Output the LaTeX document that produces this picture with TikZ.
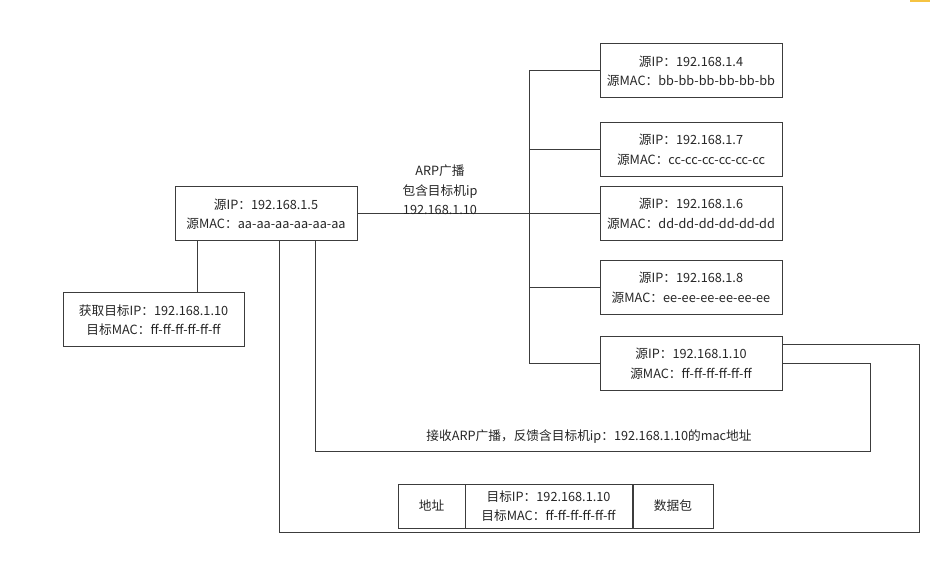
\documentclass[tikz,border=0pt]{standalone}
\usepackage{fontspec}
\setmainfont{Noto Sans CJK SC}
\usetikzlibrary{calc}
\definecolor{linegray}{HTML}{3C3C3C}
\definecolor{textgray}{HTML}{262626}
\definecolor{markyellow}{HTML}{F5C342}
\begin{document}
\begin{tikzpicture}[x=1pt,y=-1pt,
  every node/.style={text=textgray,font=\fontsize{12.7}{19.5}\selectfont,inner sep=0pt},
  hostbox/.style={draw=linegray,line width=1pt,minimum width=182pt,minimum height=54pt,align=center},
  pktbox/.style={draw=linegray,line width=1pt,minimum height=44pt,align=center},
  wire/.style={draw=linegray,line width=1pt}]
\useasboundingbox (0,0) rectangle (940,585);
\fill[markyellow] (910,0) rectangle (930,2.5);

% sending host and the result it obtains
\node[hostbox] (s) at (266,214) {源IP：192.168.1.5\\源MAC：aa-aa-aa-aa-aa-aa};
\node[hostbox,minimum width=181pt] (g) at (153.5,320) {获取目标IP：192.168.1.10\\目标MAC：ff-ff-ff-ff-ff-ff};

% hosts on the segment
\node[hostbox] (b1) at (691,71) {源IP：192.168.1.4\\源MAC：bb-bb-bb-bb-bb-bb};
\node[hostbox] (b2) at (691,149.5) {源IP：192.168.1.7\\源MAC：cc-cc-cc-cc-cc-cc};
\node[hostbox] (b3) at (691,213.5) {源IP：192.168.1.6\\源MAC：dd-dd-dd-dd-dd-dd};
\node[hostbox] (b4) at (691,287.5) {源IP：192.168.1.8\\源MAC：ee-ee-ee-ee-ee-ee};
\node[hostbox] (b5) at (691,363.5) {源IP：192.168.1.10\\源MAC：ff-ff-ff-ff-ff-ff};

% packet layout
\node[pktbox,minimum width=67pt] (p1) at (431.5,506) {地址};
\node[pktbox,minimum width=167pt] (p2) at (548.5,506) {目标IP：192.168.1.10\\目标MAC：ff-ff-ff-ff-ff-ff};
\node[pktbox,minimum width=80pt] (p3) at (673,506) {数据包};

% helper coordinates for the routing
\coordinate (bus) at (529,0);
\coordinate (xg) at (197,0);
\coordinate (xr) at (315,0);
\coordinate (xo) at (279,0);
\coordinate (cr) at (870,451);
\coordinate (co) at (919,532);

% broadcast bus
\draw[wire] (s.east) -- (s.east -| bus);
\draw[wire] (b1.west) -- (b1.west -| bus) -- (b5.west -| bus) -- (b5.west);
\foreach \n in {b2,b3,b4} \draw[wire] (\n.west) -- (\n.west -| bus);
\node[align=center] (lab) at (440,190) {ARP广播\\包含目标机ip\\192.168.1.10};

% result of the lookup
\draw[wire] (s.south -| xg) -- (g.north -| xg);

% reply path
\draw[wire] (b5.east) -| (cr) -| (s.south -| xr);
\node (rep) at (589,437) {接收ARP广播，反馈含目标机ip：192.168.1.10的mac地址};

% outer path
\draw[wire] ([yshift=-9pt]b5.north east) -| (co) -| (s.south -| xo);
\end{tikzpicture}
\end{document}
